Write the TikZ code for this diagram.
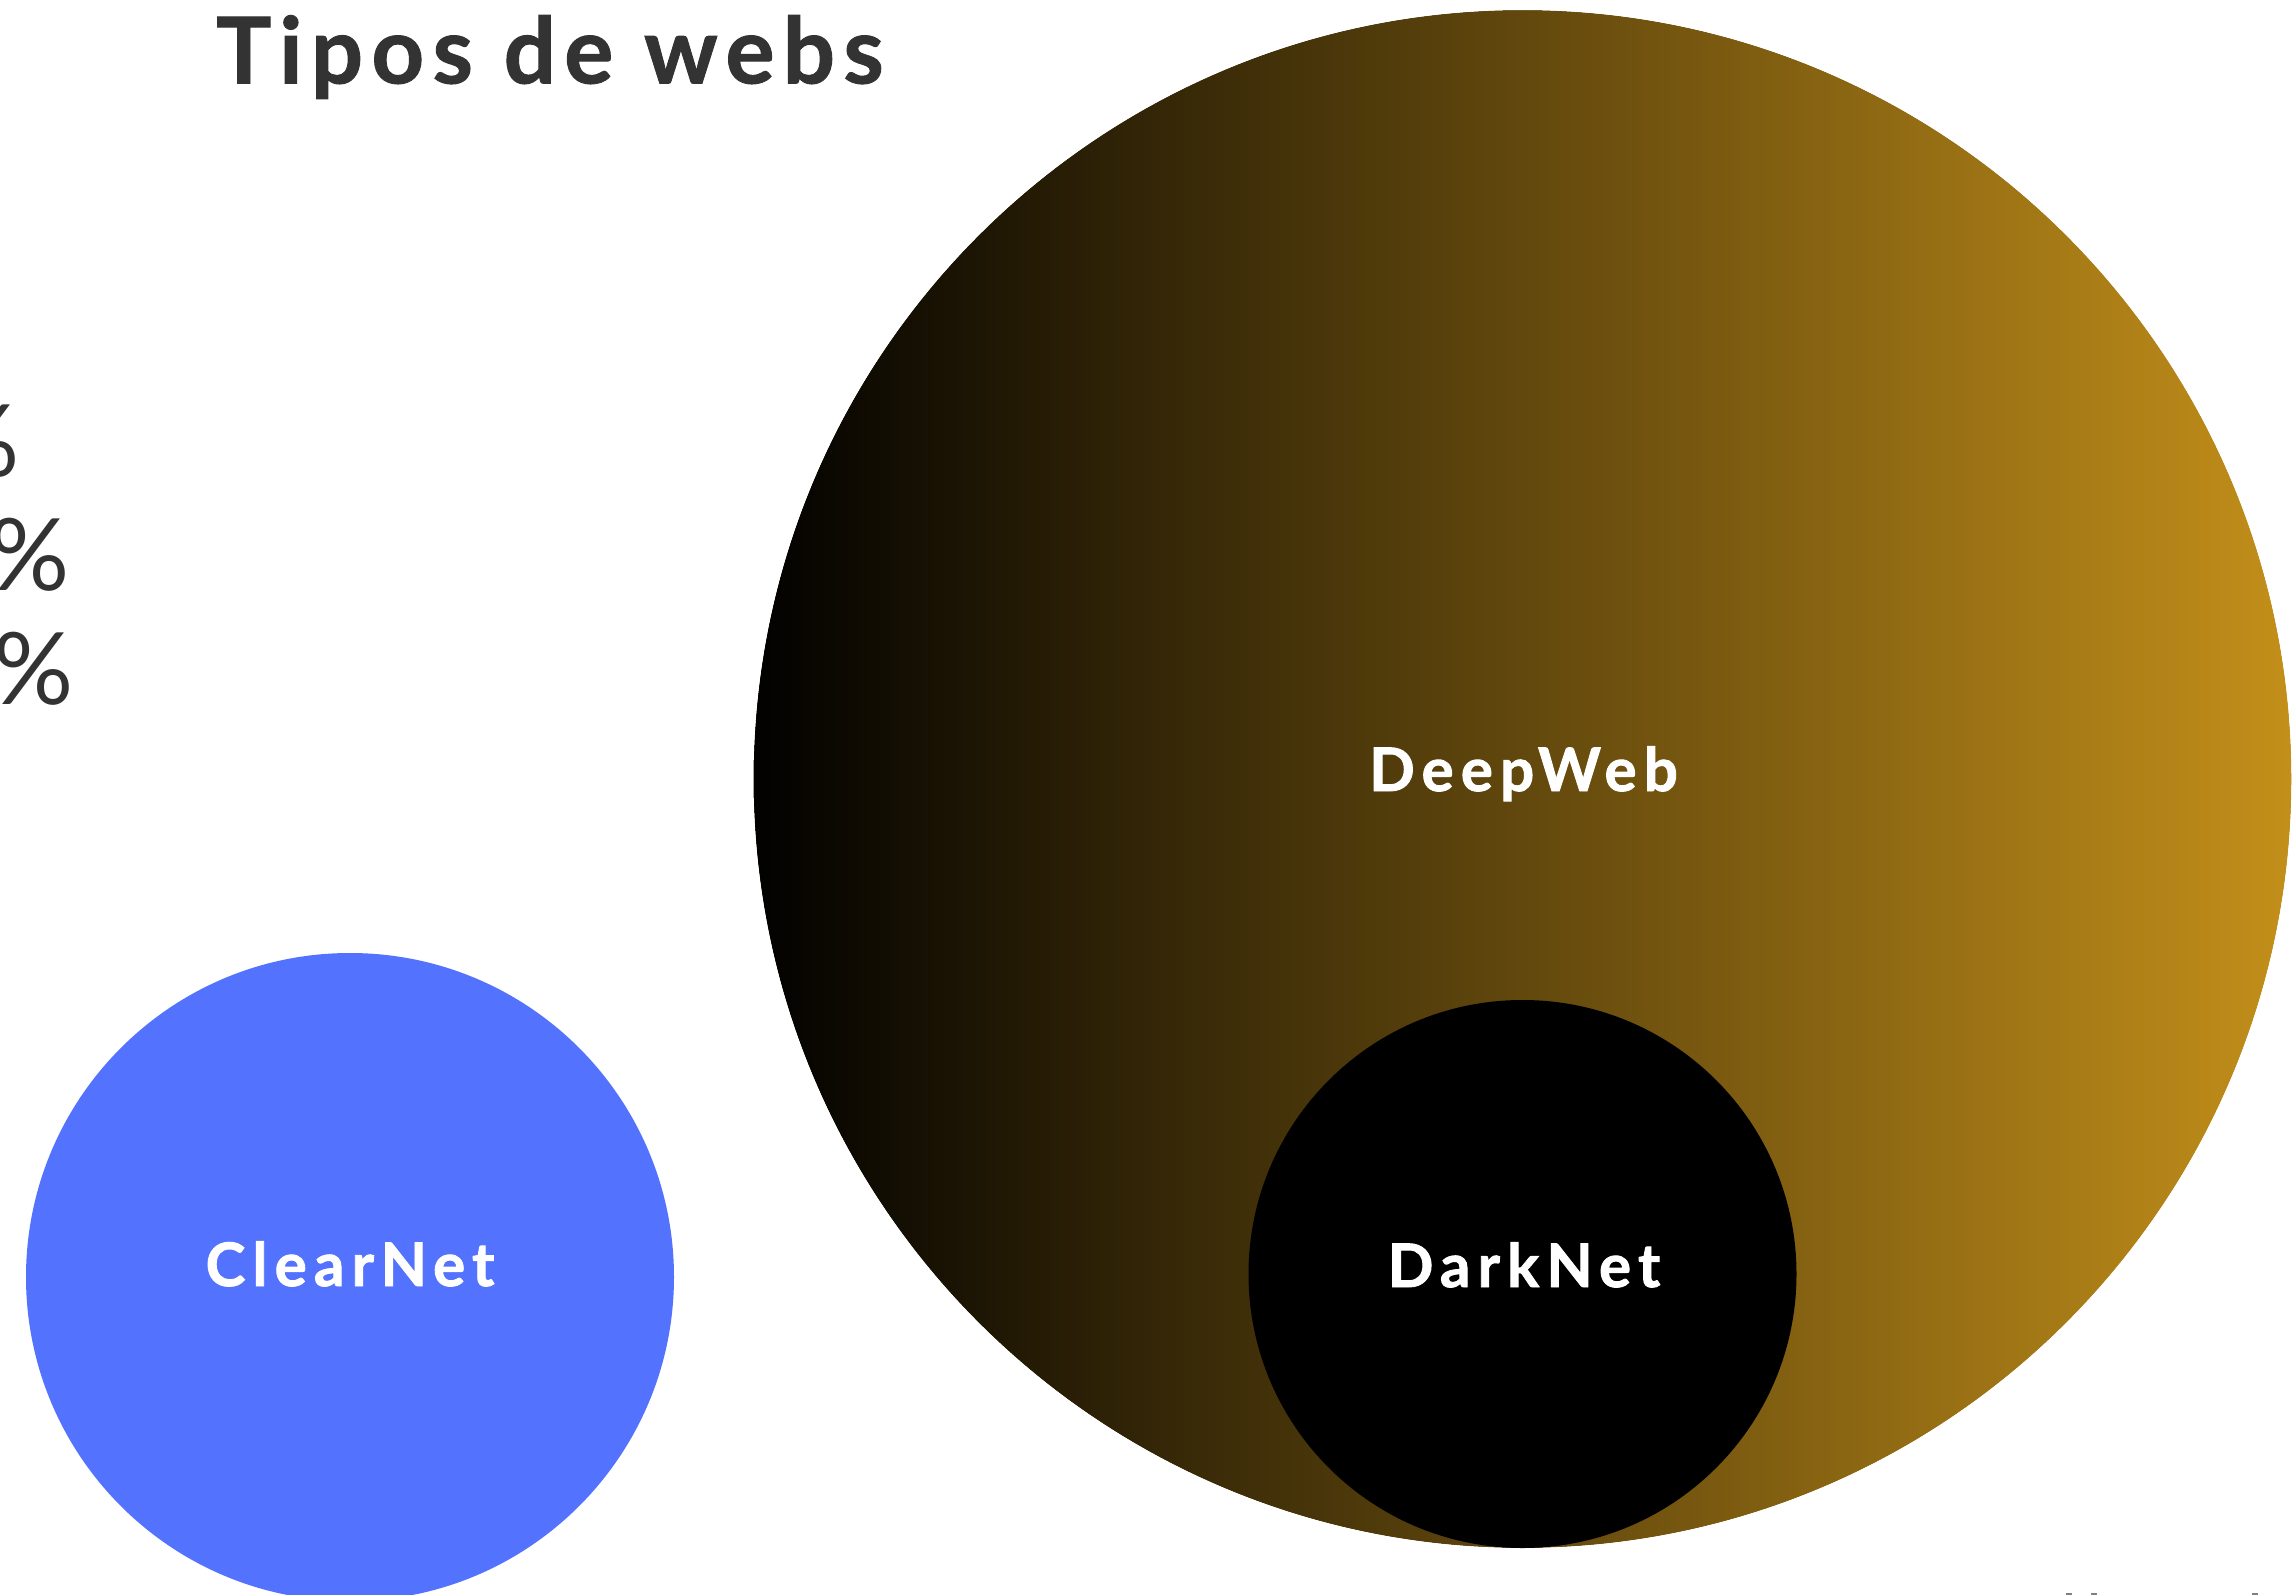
\documentclass[tikz,border=0pt]{standalone}
\usepackage{fontspec}
\setmainfont{Lato}
\newfontfamily\labelfont{Lato}[LetterSpace=12,FakeBold=1.5]
\newfontfamily\titlefont{Lato}[LetterSpace=9,FakeBold=1]
\definecolor{titlegray}{RGB}{51,51,51}
\definecolor{clearblue}{RGB}{83,115,255}
\definecolor{deepgold}{RGB}{196,144,26}
\definecolor{markgray}{RGB}{128,128,128}
\begin{document}
\begin{tikzpicture}[x=1pt,y=1pt,
  disc/.style={circle,inner sep=0pt,outer sep=0pt,draw=none},
  lbl/.style={inner sep=0pt,anchor=base,text=white,font=\labelfont\bfseries\fontsize{60}{60}\selectfont},
  pct/.style={inner sep=0pt,anchor=base east,text=titlegray,font=\fontsize{100}{100}\selectfont}]
\useasboundingbox (0,0) rectangle (2295,-1595);
\fill[white] (0,0) rectangle (2295,-1595);
% title
\node[inner sep=0pt,anchor=base west,text=titlegray,font=\titlefont\bfseries\fontsize{92}{92}\selectfont] (title) at (216,-83.4) {Tipos de webs};
% cut-off percentages
\node[pct] (p1) at (20,-476) {\%};
\node[pct] (p2) at (70,-590) {\%};
\node[pct] (p3) at (74,-704) {\%};
% circles
\node[disc,minimum size=1538pt] (deep) at (1522.5,-779) {};
\begin{scope}
  \clip (deep.center) circle[radius=769];
  \shade[left color=black,right color=deepgold] (743.5,-0) rectangle (2301.5,-1595);
\end{scope}
% smooth the clipped edge
\draw[white,line width=2.4pt] (deep.center) circle[radius=770.2];
\node[disc,minimum size=548pt,fill=black] (dark) at (1522.5,-1274) {};
\node[disc,minimum size=648pt,fill=clearblue] (clear) at (350,-1277) {};
% labels
\node[lbl] (deeplbl) at (1523.5,-791) {DeepWeb};
\node[lbl] (darklbl) at (1524,-1287) {DarkNet};
\node[lbl] (clearlbl) at (350,-1286) {ClearNet};
% tiny cut-off marks at bottom edge
\fill[markgray] (2066,-1593) rectangle (2072,-1595);
\fill[markgray] (2091,-1593) rectangle (2097,-1595);
\fill[markgray] (2252,-1593) rectangle (2258,-1595);
\end{tikzpicture}
\end{document}
